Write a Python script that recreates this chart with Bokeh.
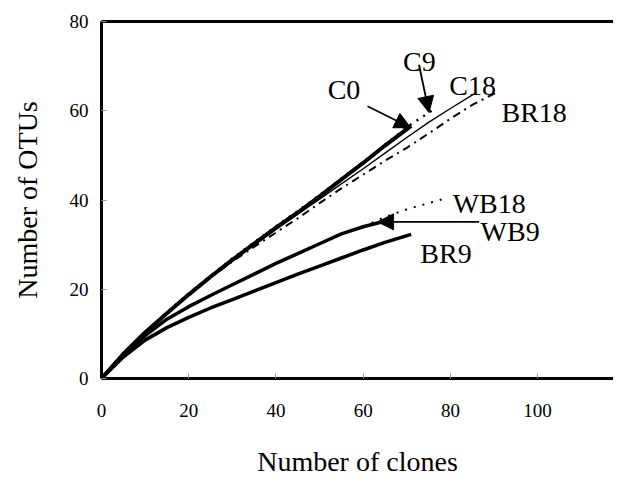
from bokeh.plotting import figure
from bokeh.models import Range1d, LinearAxis, FixedTicker, Arrow, NormalHead, ColumnDataSource
from bokeh.core.properties import value
from bokeh.embed import file_html
from bokeh.resources import INLINE

FONT = "Liberation Serif"

# ---- data ----
c0_x = [0, 5, 10, 15, 20, 25, 30, 35, 40, 45, 50, 55, 60, 65, 71]
c0_y = [0, 5.5, 10.3, 14.6, 18.8, 22.8, 26.6, 30.2, 33.8, 37.2, 40.8, 44.6, 48.3, 52.2, 56.6]

c9_x = [0, 5, 10, 15, 20, 25, 30, 35, 40, 45, 50, 55, 60, 65, 70, 76]
c9_y = [0, 5.6, 10.4, 14.8, 19.0, 23.0, 26.9, 30.5, 34.1, 37.5, 41.1, 44.8, 48.5, 52.4, 56.3, 60.2]

c18_x = [0, 5, 10, 15, 20, 25, 30, 35, 40, 45, 50, 55, 60, 65, 70, 75, 80, 86]
c18_y = [0, 5.5, 10.3, 14.6, 18.7, 22.6, 26.3, 29.9, 33.4, 36.8, 40.2, 43.6, 47.0, 50.5, 54.0, 57.4, 60.5, 64.1]

br18_x = [0, 5, 10, 15, 20, 25, 30, 35, 40, 45, 50, 55, 60, 65, 70, 75, 80, 85, 91]
br18_y = [0, 5.5, 10.3, 14.6, 18.7, 22.6, 26.2, 29.5, 32.7, 35.9, 39.3, 42.6, 45.7, 48.8, 51.7, 54.9, 58.2, 61.3, 64.3]

wb9_x = [0, 5, 10, 15, 20, 25, 30, 35, 40, 45, 50, 55, 60, 64]
wb9_y = [0, 5.3, 9.6, 13.3, 16.1, 18.6, 21.0, 23.4, 25.8, 28.0, 30.2, 32.4, 34.0, 35.0]

wb18_x = [0, 5, 10, 15, 20, 25, 30, 35, 40, 45, 50, 55, 60, 65, 70, 75, 79]
wb18_y = [0, 5.3, 9.6, 13.3, 16.1, 18.6, 21.0, 23.4, 25.8, 28.0, 30.2, 32.4, 34.0, 36.2, 37.9, 39.3, 40.4]

br9_x = [0, 5, 10, 15, 20, 25, 30, 35, 40, 45, 50, 55, 60, 65, 71]
br9_y = [0, 4.8, 8.6, 11.4, 13.7, 15.8, 17.7, 19.6, 21.5, 23.4, 25.2, 27.0, 28.8, 30.5, 32.3]

label_text = ["C0", "C9", "C18", "BR18", "WB18", "WB9", "BR9"]
label_x = [55.6, 72.9, 85.1, 99.2, 88.9, 93.7, 79.0]
label_y = [64.75, 71.05, 65.6, 59.6, 39.2, 32.9, 28.0]

arrow_start_x = [61.0, 72.8, 86.6]
arrow_start_y = [61.0, 70.3, 35.1]
arrow_end_x = [70.9, 75.1, 63.3]
arrow_end_y = [56.2, 59.6, 35.1]

x_ticks = [0, 20, 40, 60, 80, 100]
y_ticks = [0, 20, 40, 60, 80]

# ---- figure ----
p = figure(width=613, height=479, output_backend="svg", toolbar_location=None,
           x_range=Range1d(0, 117.4), y_range=Range1d(0, 80),
           x_axis_label="Number of clones", y_axis_label="Number of OTUs",
           min_border_left=101, min_border_right=0, min_border_top=21, min_border_bottom=98)
p.outline_line_color = None
p.grid.visible = False
p.background_fill_color = "white"
p.border_fill_color = "white"

for ax, ticks in ((p.xaxis[0], x_ticks), (p.yaxis[0], y_ticks)):
    ax.ticker = FixedTicker(ticks=ticks)
    ax.axis_line_width = 3
    ax.axis_line_color = "black"
    ax.major_tick_in = 5
    ax.major_tick_out = 0
    ax.minor_tick_in = 0
    ax.minor_tick_out = 0
    ax.major_tick_line_color = "#999999"
    ax.major_label_text_font = FONT
    ax.major_label_text_font_size = "19px"
    ax.major_label_text_color = "black"
    ax.axis_label_text_font = FONT
    ax.axis_label_text_font_size = "28px"
    ax.axis_label_text_font_style = "normal"
    ax.axis_label_text_color = "black"

p.xaxis.major_label_standoff = 25
p.xaxis.axis_label_standoff = 26
p.yaxis.major_label_standoff = 13
p.yaxis.axis_label_standoff = 24

top = LinearAxis(ticker=FixedTicker(ticks=[]), axis_line_width=3, axis_line_color="black",
                 major_tick_out=0, major_tick_in=0, minor_tick_in=0, minor_tick_out=0,
                 major_label_text_font_size="0px", major_label_standoff=0)
p.add_layout(top, "above")

# ---- series ----
p.line(br18_x, br18_y, line_color="black", line_width=2, line_dash="8 5 2 5")
p.line(c18_x, c18_y, line_color="black", line_width=1.4)
p.line(c9_x, c9_y, line_color="black", line_width=2.5, line_dash="2 6")
p.line(c0_x, c0_y, line_color="black", line_width=4)
p.line(wb18_x, wb18_y, line_color="black", line_width=2, line_dash="2 7")
p.line(wb9_x, wb9_y, line_color="black", line_width=3.5)
p.line(br9_x, br9_y, line_color="black", line_width=3.5)

for xs, ys, xe, ye in zip(arrow_start_x, arrow_start_y, arrow_end_x, arrow_end_y):
    p.add_layout(Arrow(end=NormalHead(size=16, fill_color="black", line_color="black"),
                       x_start=xs, y_start=ys, x_end=xe, y_end=ye,
                       line_width=1.8, line_color="black"))

src = ColumnDataSource(dict(x=label_x, y=label_y, t=label_text))
p.text(x="x", y="y", text="t", source=src, text_font=value(FONT), text_font_size="28px",
       text_align="center", text_baseline="alphabetic", text_color="black")

open("out.html", "w").write(file_html(p, INLINE))
